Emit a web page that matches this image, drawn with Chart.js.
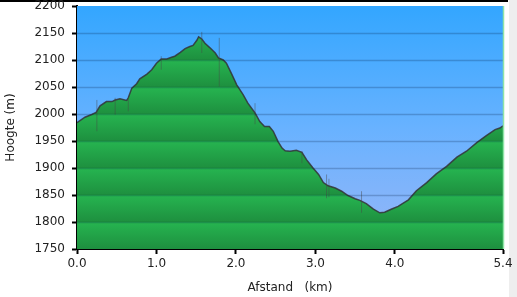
<!DOCTYPE html>
<html>
<head>
<meta charset="utf-8">
<script src="https://cdn.jsdelivr.net/npm/chart.js@4/dist/chart.umd.min.js"></script>
<style>
    html, body { margin: 0; padding: 0; background: #fff; }
    #wrap { position: relative; width: 517px; height: 297px; overflow: hidden; }
    #topBar { position: absolute; left: 0; top: 0; width: 508px; height: 2px; background: #000; }
    #sidePanel { position: absolute; left: 509px; top: 0; width: 8px; height: 297px; background: #eeeeee; }
    #profile { position: absolute; left: 0; top: 0; }
</style>
</head>
<body>
<div id="wrap">
    <div id="topBar"></div>
    <div id="sidePanel"></div>
    <canvas id="profile" width="517" height="297"></canvas>
</div>
<script>
// afstand (km) en hoogte (m) van het profiel
const distKm = [0.00, 0.10, 0.185, 0.24, 0.29, 0.37, 0.44, 0.48, 0.54, 0.625, 0.645, 0.69, 0.75, 0.79, 0.88, 0.94,
    1.00, 1.06, 1.13, 1.19, 1.23, 1.30, 1.36, 1.42, 1.46, 1.51, 1.53, 1.57, 1.61, 1.67, 1.74, 1.78, 1.84, 1.88, 1.95,
    2.01, 2.09, 2.15, 2.24, 2.30, 2.36, 2.42, 2.47, 2.53, 2.58, 2.62, 2.68, 2.76, 2.83, 2.89, 2.97,
    3.04, 3.10, 3.16, 3.25, 3.33, 3.41, 3.50, 3.56, 3.64, 3.73, 3.81, 3.87, 3.96,
    4.04, 4.17, 4.27, 4.40, 4.52, 4.65, 4.78, 4.90, 5.03, 5.15, 5.26, 5.32, 5.36];
const heightM = [1984, 1994, 1999, 2003, 2015, 2023, 2023, 2026, 2028, 2025, 2030, 2048, 2056, 2065, 2074, 2082,
    2094, 2102, 2102, 2105, 2107, 2114, 2121, 2125, 2127, 2137, 2143, 2139, 2131, 2123, 2113, 2104, 2100, 2094, 2073,
    2054, 2036, 2020, 2002, 1986, 1977, 1977, 1968, 1949, 1937, 1932, 1931, 1933, 1929, 1915, 1900,
    1888, 1873, 1867, 1863, 1857, 1849, 1843, 1840, 1834, 1824, 1817, 1818, 1824,
    1829, 1841, 1858, 1873, 1889, 1903, 1920, 1931, 1947, 1960, 1971, 1974, 1978];

// losse pieken (meetfouten) in het profiel
const spikeKm = [0.25, 0.48, 0.645, 1.06, 1.57, 1.79, 2.24, 2.83, 3.14, 3.17, 3.58];
const spikeLow = [1968, 1999, 2005, 2082, 2113, 2051, 1981, 1909, 1844, 1846, 1817];
const spikeHigh = [2026, 2030, 2028, 2107, 2152, 2141, 2020, 1931, 1888, 1880, 1857];

const xTicks = [0, 1, 2, 3, 4, 5.36];
const xTickLabels = ['0.0', '1.0', '2.0', '3.0', '4.0', '5.4'];
const yTicks = [1750, 1800, 1850, 1900, 1950, 2000, 2050, 2100, 2150, 2200];

const profilePoints = distKm.map((d, i) => ({ x: d, y: heightM[i] }));
const spikePoints = [];
spikeKm.forEach((d, i) => {
    spikePoints.push({ x: d, y: spikeLow[i] });
    spikePoints.push({ x: d, y: spikeHigh[i] });
    spikePoints.push({ x: d, y: null });
});

// groene vulling in banden van 50 m
function greenFill(context) {
    const chart = context.chart;
    const area = chart.chartArea;
    if (!area) return '#22a84a';
    const yScale = chart.scales.y;
    const g = chart.ctx.createLinearGradient(0, area.top, 0, area.bottom);
    const h = area.bottom - area.top;
    for (let i = 0; i < yTicks.length - 1; i++) {
        const top = (yScale.getPixelForValue(yTicks[i + 1]) - area.top) / h;
        const bot = (yScale.getPixelForValue(yTicks[i]) - area.top) / h;
        g.addColorStop(Math.max(0, top + 0.002), '#26b450');
        g.addColorStop(Math.min(1, bot - 0.002), '#1e903f');
    }
    return g;
}

const backdrop = {
    id: 'backdrop',
    beforeDatasetsDraw(chart) {
        const { ctx, chartArea: a } = chart;
        const g = ctx.createLinearGradient(0, a.top, 0, a.bottom);
        g.addColorStop(0, '#33a6ff');
        g.addColorStop(0.5, '#68b2ff');
        g.addColorStop(1, '#97b6f7');
        ctx.save();
        ctx.fillStyle = g;
        ctx.fillRect(a.left, a.top, a.right - a.left, a.bottom - a.top);
        ctx.restore();
    },
    afterDatasetsDraw(chart) {
        const { ctx, chartArea: a, scales } = chart;
        ctx.save();
        ctx.strokeStyle = 'rgba(0, 25, 60, 0.22)';
        ctx.lineWidth = 1.5;
        yTicks.forEach(v => {
            if (v === 1750 || v === 2200) return;
            const y = Math.round(scales.y.getPixelForValue(v)) + 0.5;
            ctx.beginPath();
            ctx.moveTo(a.left, y);
            ctx.lineTo(a.right, y);
            ctx.stroke();
        });
        // lichtgroene rand rechts
        ctx.strokeStyle = '#8fe3a6';
        ctx.lineWidth = 1.5;
        ctx.beginPath();
        ctx.moveTo(a.right + 0.5, a.top);
        ctx.lineTo(a.right + 0.5, a.bottom);
        ctx.stroke();
        ctx.restore();
    }
};

const font = { family: 'DejaVu Sans, Verdana, sans-serif', size: 12 };

new Chart(document.getElementById('profile'), {
    type: 'line',
    data: {
        datasets: [
            {
                label: 'pieken',
                data: spikePoints,
                borderColor: 'rgba(70, 70, 70, 0.45)',
                borderWidth: 1,
                pointRadius: 0,
                spanGaps: false,
                fill: false,
                order: 0
            },
            {
                label: 'Hoogte',
                data: profilePoints,
                borderColor: 'rgba(50, 50, 55, 0.85)',
                borderWidth: 1.5,
                backgroundColor: greenFill,
                fill: 'start',
                pointRadius: 0,
                tension: 0,
                order: 1
            }
        ]
    },
    options: {
        responsive: false,
        animation: false,
        events: [],
        layout: { padding: { left: 0, top: 6, right: 14, bottom: 0 } },
        plugins: { legend: { display: false }, tooltip: { enabled: false } },
        scales: {
            x: {
                type: 'linear',
                min: 0,
                max: 5.36,
                afterFit: s => { s.height = 48; s.paddingLeft = 0; s.paddingRight = 0; },
                afterBuildTicks: s => { s.ticks = xTicks.map(v => ({ value: v })); },
                grid: { drawOnChartArea: false, drawTicks: true, tickLength: 5, tickColor: '#000', tickWidth: 2 },
                border: { display: true, color: '#000', width: 2 },
                ticks: {
                    color: '#222',
                    font: font,
                    padding: 3,
                    maxRotation: 0,
                    autoSkip: false,
                    callback: (v, i) => xTickLabels[i]
                },
                title: { display: true, text: 'Afstand   (km)', color: '#222', font: font, padding: { top: 2, bottom: 2 } }
            },
            y: {
                min: 1750,
                max: 2200,
                afterFit: s => { s.width = 77; s.paddingTop = 0; s.paddingBottom = 0; },
                afterBuildTicks: s => { s.ticks = yTicks.map(v => ({ value: v })); },
                grid: { drawOnChartArea: false, drawTicks: true, tickLength: 5, tickColor: '#000', tickWidth: 2 },
                border: { display: true, color: '#000', width: 2 },
                ticks: { color: '#222', font: font, padding: 7, autoSkip: false, callback: v => String(v) },
                title: { display: true, text: 'Hoogte (m)', color: '#222', font: font, padding: { top: 4, bottom: 0 } }
            }
        }
    },
    plugins: [backdrop]
});
</script>
</body>
</html>
